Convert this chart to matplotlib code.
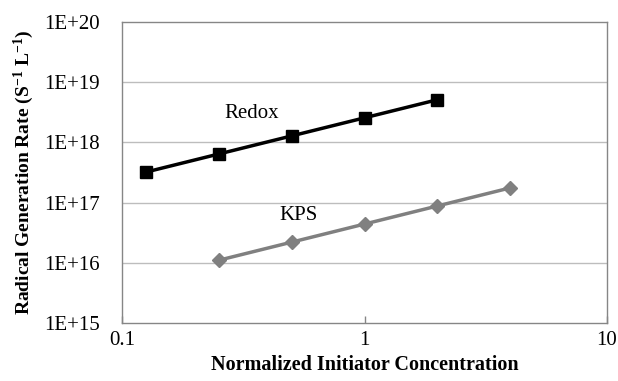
import matplotlib
matplotlib.use("Agg")
import matplotlib.pyplot as plt
from matplotlib.ticker import FixedLocator, FixedFormatter

# initiator concentration (normalized) and radical generation rates
redox_conc = [0.125, 0.25, 0.5, 1, 2]
redox_rate = [3.2e17, 6.4e17, 1.28e18, 2.56e18, 5.12e18]
kps_conc = [0.25, 0.5, 1, 2, 4]
kps_rate = [1.1e16, 2.2e16, 4.4e16, 8.8e16, 1.76e17]

y_ticks = [1e15, 1e16, 1e17, 1e18, 1e19, 1e20]
y_labels = ["1E+15", "1E+16", "1E+17", "1E+18", "1E+19", "1E+20"]
x_ticks = [0.1, 1, 10]
x_labels = ["0.1", "1", "10"]

plt.rcParams['font.family'] = ['Liberation Serif', 'DejaVu Serif']
plt.rcParams['mathtext.fontset'] = 'custom'
plt.rcParams['mathtext.rm'] = 'Liberation Serif'
plt.rcParams['mathtext.bf'] = 'Liberation Serif:bold'

fig = plt.figure(figsize=(6.18, 3.81), dpi=100)
ax = fig.add_axes([122 / 618, 1 - 323 / 381, (607 - 122) / 618, (323 - 22) / 381])

ax.set_xscale('log')
ax.set_yscale('log')
ax.set_xlim(0.1, 10)
ax.set_ylim(1e15, 1e20)

for yt in y_ticks[1:-1]:
    ax.axhline(yt, color='#bdbdbd', lw=1.0, zorder=0)

ax.plot(redox_conc, redox_rate, color='black', lw=2.5, marker='s', ms=8.5,
        zorder=3)
ax.plot(kps_conc, kps_rate, color='#808080', lw=2.5, marker='D', ms=7.5,
        zorder=3)

ax.text(0.343, 3.0e18, "Redox", fontsize=15, ha='center', va='center')
ax.text(0.532, 6.1e16, "KPS", fontsize=15, ha='center', va='center')

ax.yaxis.set_major_locator(FixedLocator(y_ticks))
ax.yaxis.set_major_formatter(FixedFormatter(y_labels))
ax.yaxis.set_minor_locator(FixedLocator([]))
ax.xaxis.set_major_locator(FixedLocator(x_ticks))
ax.xaxis.set_major_formatter(FixedFormatter(x_labels))
ax.xaxis.set_minor_locator(FixedLocator([]))

ax.tick_params(axis='y', length=0, pad=16, labelsize=15)
ax.tick_params(axis='x', direction='in', length=5, width=1, color='#868686',
               pad=6, labelsize=15)

for s in ax.spines.values():
    s.set_color('#868686')
    s.set_linewidth(1.0)

ax.set_xlabel("Normalized Initiator Concentration", fontsize=14.5,
              fontweight='bold', labelpad=3)
ax.set_ylabel(r"Radical Generation Rate (S$\mathbf{^{-1}}$ L$\mathbf{^{-1}}$)",
              fontsize=14, fontweight='bold', labelpad=6)

fig.savefig("out.png", dpi=100)
